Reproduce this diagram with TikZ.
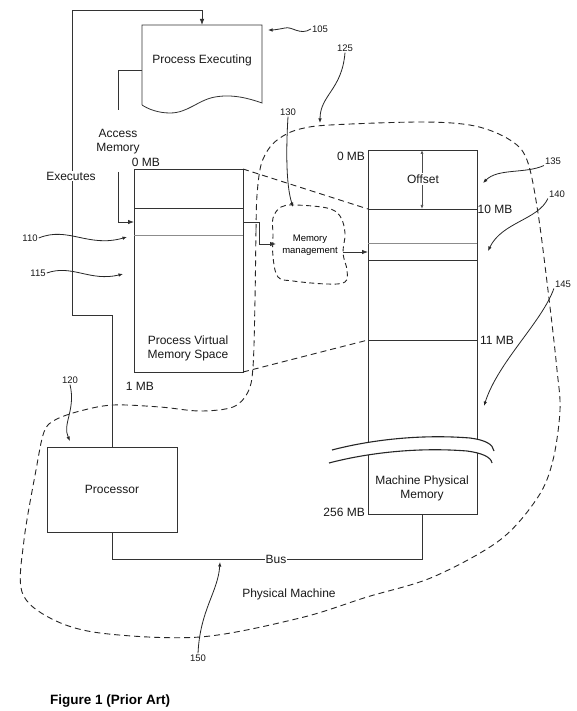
\documentclass[tikz,border=0pt]{standalone}
\usepackage{fontspec}
\setmainfont{Liberation Sans}
\usetikzlibrary{arrows.meta,calc}
\begin{document}
\begin{tikzpicture}[x=1pt,y=-1pt,
  ln/.style={draw=black!80, line width=0.8pt},
  thin/.style={draw=black!45, line width=0.7pt},
  box/.style={ln, rectangle, inner sep=0pt, outer sep=0pt, anchor=north west},
  lbl/.style={font=\fontsize{12}{14}\selectfont, inner sep=1pt, text=black!90},
  num/.style={font=\fontsize{9.5}{11}\selectfont, inner sep=1pt, text=black!90},
  tip/.style={-{Latex[length=6pt,width=4.5pt]}},
  stip/.style={-{Latex[length=4.5pt,width=3.5pt]}},
  ref/.style={draw=black!85, line width=0.8pt, stip},
  dsh/.style={draw=black!85, line width=0.9pt, dash pattern=on 6pt off 4pt},
]
\useasboundingbox (0,0) rectangle (576,711);
\fill[white] (0,0) rectangle (576,711);

% Physical machine boundary
\draw[dsh] plot[smooth cycle, tension=0.55] coordinates {
 (255,300) (256,230) (257,195) (261,165) (270,147) (283,136) (300,129) (330,125)
 (423,122) (475,126) (510,140) (527,160) (538,213) (550,307) (557,370) (560,410)
 (553,460) (538,497) (500,540) (433,577) (367,597) (300,618) (200,637) (100,633)
 (50,618) (22,592) (24,540) (36,470) (44,432) (55,420) (80,411) (113,405)
 (160,407) (200,411) (233,407) (248,392) (253,367)};

% Process Executing (wavy document)
\draw[ln] (142,105) -- (142,25) -- (262,25) -- (262,103)
  .. controls (248,98) and (232,94) .. (215,97)
  .. controls (198,100) and (188,113) .. (170,113)
  .. controls (158,113) and (148,109) .. (142,105);
\node[lbl] (pe) at (202,60) {Process Executing};
\coordinate (pe-top) at (202,25);
\coordinate (pe-left) at (142,70);

% Virtual memory box
\node[box, minimum width=109pt, minimum height=203pt] (vm) at (134,169) {};
\draw[ln] (134,208) -- (243,208);
\draw[thin] (134,235) -- (243,235);
\node[lbl, align=center] (vmtext) at (188,348) {Process Virtual\\Memory Space};

% Processor
\node[box, minimum width=130pt, minimum height=85pt] (proc) at (47,447) {};
\node[lbl] (proctext) at (112,489) {Processor};

% Physical memory box
\node[box, minimum width=109pt, minimum height=364pt] (pm) at (368,150) {};
\draw[ln] (368,209) -- (477,209);
\draw[thin] (368,243) -- (477,243);
\draw[ln] (368,260) -- (477,260);
\draw[ln] (368,340) -- (477,340);
\coordinate (pm10) at (368,209);
\coordinate (pm11) at (368,340);

% break in physical memory
\fill[white] (332,450) .. controls (370,440) and (420,434) .. (470,438)
  .. controls (485,440) and (493,444) .. (494,451) -- (492,463)
  .. controls (491,457) and (482,453) .. (467,451)
  .. controls (417,447) and (367,453) .. (329,463) -- cycle;
\draw[draw=black!85, line width=1.1pt] (332,450) .. controls (370,440) and (420,434) .. (470,438)
  .. controls (485,440) and (493,444) .. (494,451);
\draw[draw=black!85, line width=1.1pt] (329,463) .. controls (367,453) and (417,447) .. (467,451)
  .. controls (482,453) and (491,457) .. (492,463);
\node[lbl, align=center] (pmtext) at (422,488) {Machine Physical\\Memory};

% Offset
\coordinate (off-a) at (422,150);
\coordinate (off-b) at (422,209);
\draw[draw=black!70, line width=0.6pt, {Latex[length=4pt,width=3pt,open]}-{Latex[length=4pt,width=3pt,open]}] (off-a) -- (off-b);
\node[lbl, fill=white, inner sep=1.5pt] (offset) at (423,179) {Offset};

% dashed mapping lines
\draw[dsh] (vm.north east) -- (pm10);
\draw[dsh] (vm.south east) -- (pm11);

% Memory management blob
\draw[draw=black!85, line width=0.9pt, dash pattern=on 5pt off 3.5pt] plot[smooth cycle, tension=0.6] coordinates {
 (273,218) (281,207) (295,205) (327,208) (340,216) (345,233) (343,253) (347,270)
 (345,282) (327,284) (293,281) (278,277) (273,257) (273,235)};
\node[font=\fontsize{9.5}{11.5}\selectfont, align=center, inner sep=1pt] (mm) at (310,245) {Memory\\management};
\coordinate (mm-w) at (276,244);
\coordinate (mm-e) at (343,252);
\coordinate (vm-out) at (243,222);

% connectors
\draw[ln, tip] (proc.north) -- (112,315) -- (72,315) -- (72,10) -- (202,10) -- (pe-top);
\node[lbl, fill=white, inner sep=1pt] (exec) at (71,176) {Executes};
\draw[ln] (pe-left) -| (118,110);
\draw[ln, tip] (118,172) |- (vm.west |- 0,222);
\node[lbl, align=center] (acc) at (118,142) {Access\\Memory};
\draw[ln, tip] (vm-out) -- (259,222) -- (259,244) -- (mm-w);
\draw[ln, tip] (mm-e) -- (mm-e -| pm.west);
\coordinate (busR) at (422.5,559);
\draw[ln] (proc.south) |- (busR) -- (pm.south);
\node[lbl, fill=white, inner sep=1pt] (bus) at (276,559) {Bus};

% memory labels
\node[lbl] (vm0) at (146,162) {0 MB};
\node[lbl] (vm1) at (140,386) {1 MB};
\node[lbl] (pm0) at (351,156) {0 MB};
\node[lbl] (pm10l) at (495,209) {10 MB};
\node[lbl] (pm11l) at (497,340) {11 MB};
\node[lbl, anchor=east] (pm256) at (366,512) {256 MB};
\node[lbl] (physm) at (289,594) {Physical Machine};

% reference numerals
\node[num] (n105) at (320,29) {105};
\node[num] (n125) at (345,48) {125};
\node[num] (n130) at (288,112) {130};
\node[num] (n135) at (553,161) {135};
\node[num] (n140) at (557,194) {140};
\node[num] (n145) at (563,284) {145};
\node[num] (n110) at (30,238) {110};
\node[num] (n115) at (38,273) {115};
\node[num] (n120) at (70,380) {120};
\node[num] (n150) at (198,658) {150};

\coordinate (t105) at (268,30);
\coordinate (t125) at (320,123);
\coordinate (t130) at (293,207);
\coordinate (t135) at (483,183);
\coordinate (t140) at (488,251);
\coordinate (t145) at (484,406);
\coordinate (t110) at (127,237);
\coordinate (t115) at (123,274);
\coordinate (t120) at (70,441);
\coordinate (t150) at (220,562);

\draw[ref] (n105.west) .. controls (300,36) and (292,26) .. (285,28) .. controls (280,29) and (274,30) .. (t105);
\draw[ref] (n125.south) .. controls (342,90) and (320,95) .. (t125);
\draw[ref] (n130.south) .. controls (286,150) and (286,185) .. (t130);
\draw[ref] (n135.south west) .. controls (525,174) and (498,168) .. (t135);
\draw[ref] (n140.south west) .. controls (538,220) and (502,222) .. (t140);
\draw[ref] (n145.south west) .. controls (542,322) and (498,362) .. (t145);
\draw[ref] (n110.east) .. controls (68,226) and (88,248) .. (t110);
\draw[ref] (n115.east) .. controls (72,264) and (90,282) .. (t115);
\draw[ref] (n120.south) .. controls (76,410) and (62,424) .. (t120);
\draw[ref] (n150.north) .. controls (200,610) and (218,592) .. (t150);

% caption
\node[font=\bfseries\fontsize{13.5}{16}\selectfont, anchor=west, inner sep=0pt] (cap) at (50,701) {Figure 1 (Prior Art)};
\end{tikzpicture}
\end{document}
